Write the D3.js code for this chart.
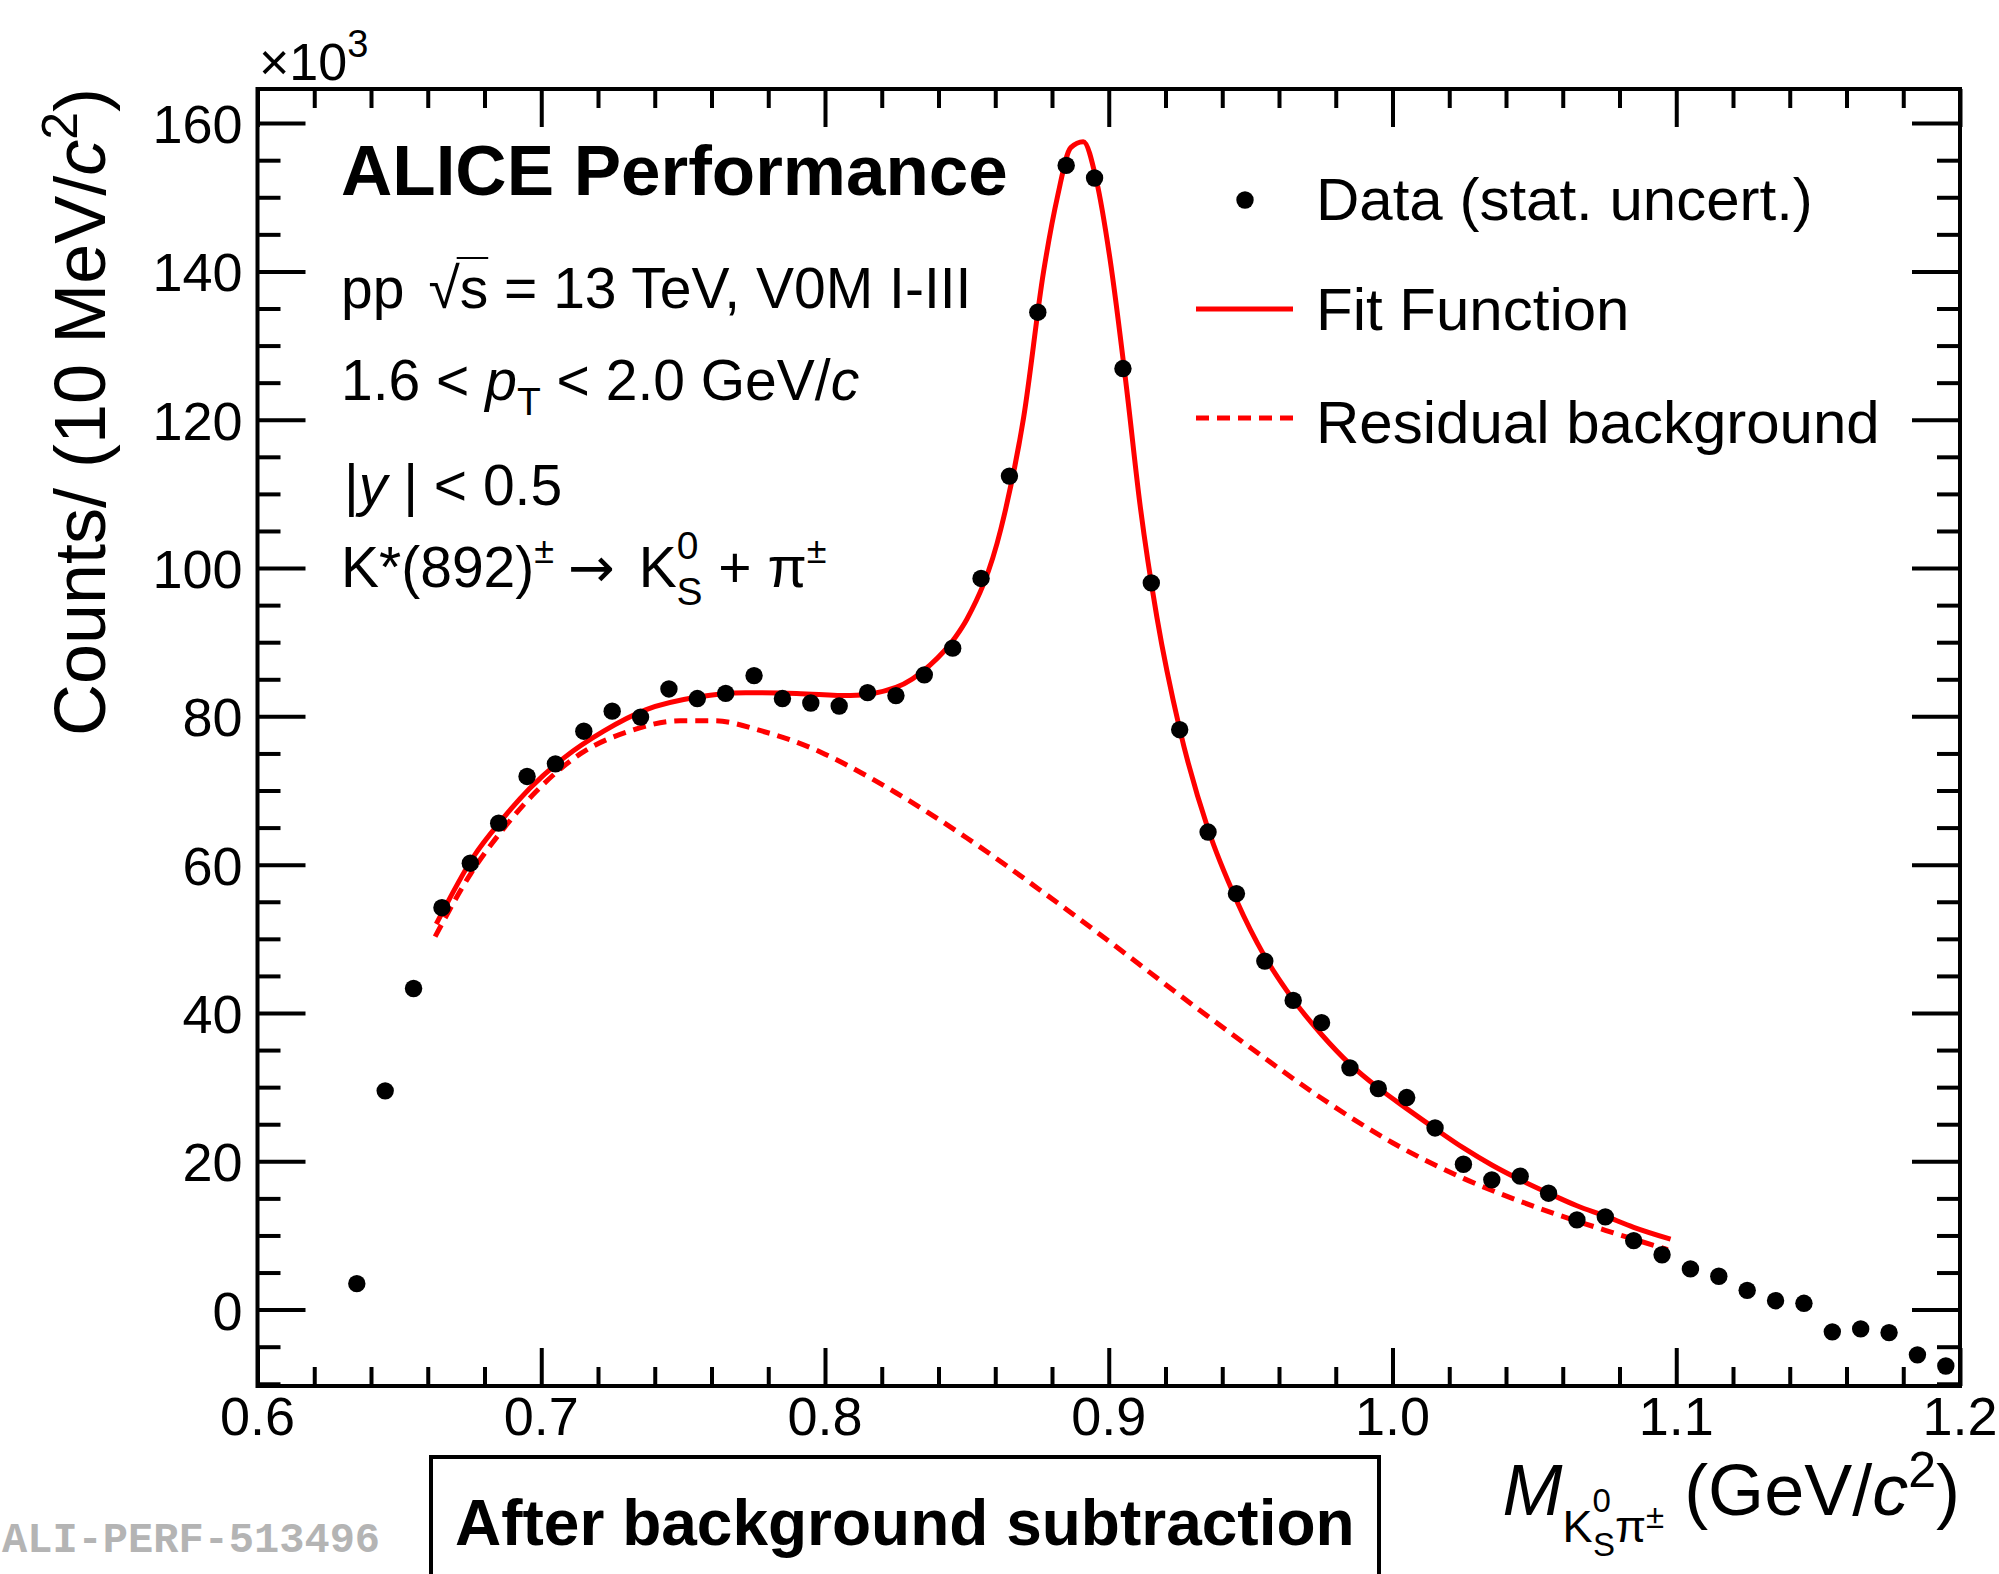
<!DOCTYPE html>
<html lang="en">
<head>
<meta charset="utf-8">
<title>K*(892) invariant mass after background subtraction</title>
<script src="https://cdn.jsdelivr.net/npm/d3@7"></script>
<style>
html,body{margin:0;padding:0;background:#fff}
svg{display:block;font-family:"Liberation Sans",Arial,Helvetica,sans-serif}
</style>
</head>
<body>
<div id="chart"></div>
<script>
// invariant mass bin centres (GeV/c^2) and counts per bin (x10^3)
var massBins=[0.635,0.645,0.655,0.665,0.675,0.685,0.695,0.705,0.715,0.725,
              0.735,0.745,0.755,0.765,0.775,0.785,0.795,0.805,0.815,0.825,
              0.835,0.845,0.855,0.865,0.875,0.885,0.895,0.905,0.915,0.925,
              0.935,0.945,0.955,0.965,0.975,0.985,0.995,1.005,1.015,1.025,
              1.035,1.045,1.055,1.065,1.075,1.085,1.095,1.105,1.115,1.125,
              1.135,1.145,1.155,1.165,1.175,1.185,1.195];
var counts=[3.5,29.5,43.3,54.2,60.2,65.6,71.9,73.6,78.0,80.7,
            79.9,83.7,82.4,83.1,85.5,82.4,81.8,81.4,83.2,82.8,
            85.6,89.2,98.6,112.4,134.5,154.3,152.6,126.9,98.0,78.2,
            64.4,56.1,47.0,41.7,38.7,32.6,29.8,28.6,24.5,19.6,
            17.5,18.0,15.7,12.1,12.5,9.3,7.4,5.5,4.5,2.6,
            1.2,0.85,-3.0,-2.6,-3.1,-6.1,-7.6];

// fit function (signal + residual background)
var fitMass=[0.663,0.666,0.676,0.686,0.696,0.708,0.722,0.737,0.755,0.772,
             0.790,0.809,0.825,0.837,0.846,0.850,0.862,0.870,0.877,0.882,
             0.8866,0.891,0.8957,0.9004,0.9063,0.911,0.917,0.925,0.935,0.945,
             0.955,0.965,0.975,0.985,0.995,1.005,1.015,1.025,1.035,1.045,
             1.055,1.065,1.075,1.085,1.098];
var fitCounts=[52.0,54.2,61.0,66.0,70.3,74.4,78.0,80.9,82.6,83.2,
               83.1,82.8,83.9,86.9,90.7,93.1,105.3,120.3,139.9,150.2,
               156.7,157.5,152.2,141.8,124.2,108.6,93.3,78.3,64.8,55.2,
               47.6,41.8,37.1,33.1,29.9,27.1,24.4,21.8,19.5,17.5,
               15.7,14.0,12.6,11.1,9.5];

// residual background component
var bkgMass=[0.6626,0.675,0.687,0.698,0.714,0.731,0.749,0.761,0.778,0.796,
             0.800,0.825,0.850,0.875,0.900,0.925,0.950,0.975,1.000,1.025,
             1.050,1.075,1.097];
var bkgCounts=[50.3,58.7,65.0,69.8,75.0,78.0,79.4,79.4,78.0,75.6,
               74.9,69.7,63.6,56.8,49.7,42.4,35.3,28.5,22.5,17.7,
               13.9,10.7,8.1];

var xTicks=[0.6,0.7,0.8,0.9,1.0,1.1,1.2];
var xTickLabels=["0.6","0.7","0.8","0.9","1.0","1.1","1.2"];
var xMinorTicks=[0.62,0.64,0.66,0.68,0.72,0.74,0.76,0.78,0.82,0.84,0.86,0.88,
                 0.92,0.94,0.96,0.98,1.02,1.04,1.06,1.08,1.12,1.14,1.16,1.18];
var yTicks=[0,20,40,60,80,100,120,140,160];
var yTickLabels=["0","20","40","60","80","100","120","140","160"];
var yMinorTicks=[-10,-5,5,10,15,25,30,35,45,50,55,65,70,75,85,90,95,
                 105,110,115,125,130,135,145,150,155];
var legendLabels=["Data (stat. uncert.)","Fit Function","Residual background"];

var W=1999,H=1574;
var frame={left:257.5,right:1960,top:89,bottom:1386};
var width=frame.right-frame.left;
var height=frame.bottom-frame.top;
var red="#ff0000";

var xScale=d3.scaleLinear().domain([0.6,1.2]).range([0,width]);
var yScale=d3.scaleLinear().domain([-10.3,164.6]).range([height,0]);

var svg=d3.select("#chart").append("svg")
    .attr("width",W).attr("height",H);
svg.append("rect").attr("width",W).attr("height",H).attr("fill","#fff");

var plot=svg.append("g")
    .attr("transform","translate("+frame.left+","+frame.top+")");

// ticks on all four sides, pointing inwards
function ticks(axis,values,size,tx,ty){
    var g=plot.append("g")
        .attr("transform","translate("+tx+","+ty+")")
        .call(axis.tickValues(values).tickSize(size).tickFormat(""));
    g.select(".domain").remove();
    g.selectAll("line").attr("stroke","#000").attr("stroke-width",4);
}
var yMinorIn=yMinorTicks.filter(function(v){return v>yScale.domain()[0];});
ticks(d3.axisBottom(xScale),xTicks,-38,0,height);
ticks(d3.axisBottom(xScale),xMinorTicks,-19,0,height);
ticks(d3.axisTop(xScale),xTicks,-38,0,0);
ticks(d3.axisTop(xScale),xMinorTicks,-19,0,0);
ticks(d3.axisLeft(yScale),yTicks,-48,0,0);
ticks(d3.axisLeft(yScale),yMinorIn,-23,0,0);
ticks(d3.axisRight(yScale),yTicks,-48,width,0);
ticks(d3.axisRight(yScale),yMinorIn,-23,width,0);

plot.append("rect")
    .attr("width",width).attr("height",height)
    .attr("fill","none").attr("stroke","#000").attr("stroke-width",4);

// tick labels
plot.selectAll(".xlab").data(xTicks).enter().append("text")
    .attr("x",function(d){return xScale(d);})
    .attr("y",height+49)
    .attr("text-anchor","middle")
    .attr("font-size",54)
    .text(function(d,i){return xTickLabels[i];});
plot.selectAll(".ylab").data(yTicks).enter().append("text")
    .attr("x",-15)
    .attr("y",function(d){return yScale(d)+20;})
    .attr("text-anchor","end")
    .attr("font-size",54)
    .text(function(d,i){return yTickLabels[i];});

// curves
var fitData=fitMass.map(function(m,i){return [m,fitCounts[i]];});
var bkgData=bkgMass.map(function(m,i){return [m,bkgCounts[i]];});
var valuePath=d3.line()
    .x(function(d){return xScale(d[0]);})
    .y(function(d){return yScale(d[1]);})
    .curve(d3.curveMonotoneX);

plot.append("path").datum(bkgData)
    .attr("d",valuePath).attr("fill","none")
    .attr("stroke",red).attr("stroke-width",5)
    .attr("stroke-dasharray","13,8");
plot.append("path").datum(fitData)
    .attr("d",valuePath).attr("fill","none")
    .attr("stroke",red).attr("stroke-width",5);

// data points
plot.selectAll(".pt").data(massBins).enter().append("circle")
    .attr("cx",function(d){return xScale(d);})
    .attr("cy",function(d,i){return yScale(counts[i]);})
    .attr("r",8.7)
    .attr("fill","#000");

// axis multiplier
var mult=svg.append("text").attr("x",259).attr("y",80).attr("font-size",52);
mult.append("tspan").text("\u00d710");
mult.append("tspan").attr("dy",-23).attr("font-size",38).text("3");

// y axis title
var yt=svg.append("text")
    .attr("transform","translate(105,88) rotate(-90)")
    .attr("text-anchor","end").attr("font-size",72);
yt.append("tspan").text("Counts/ (10 MeV/");
yt.append("tspan").attr("font-style","italic").text("c");
yt.append("tspan").attr("dy",-28).attr("font-size",50).text("2");
yt.append("tspan").attr("dy",28).text(")");

// x axis title
var xt=svg.append("text")
    .attr("x",1960).attr("y",1515)
    .attr("text-anchor","end").attr("font-size",72);
xt.append("tspan").attr("font-style","italic").text("M");
xt.append("tspan").attr("dy",27).attr("font-size",45).text("K");
xt.append("tspan").attr("dy",-30).attr("font-size",33).text("0");
xt.append("tspan").attr("dx",-18).attr("dy",44).attr("font-size",33).text("S");
xt.append("tspan").attr("dy",-14).attr("font-size",45).text("\u03c0");
xt.append("tspan").attr("dy",-14).attr("font-size",33).text("\u00b1");
xt.append("tspan").attr("dy",-13).text(" (GeV/");
xt.append("tspan").attr("font-style","italic").text("c");
xt.append("tspan").attr("dy",-28).attr("font-size",50).text("2");
xt.append("tspan").attr("dy",28).text(")");

// header text
svg.append("text").attr("x",341).attr("y",195)
    .attr("font-size",71).attr("font-weight","bold")
    .text("ALICE Performance");

var fs=57;
var l1=svg.append("text").attr("x",341).attr("y",308).attr("font-size",fs);
l1.append("tspan").text("pp");
l1.append("tspan").attr("dx",24).text("\u221a");
l1.append("tspan").text("s");
l1.append("tspan").text(" = 13 TeV, V0M I-III");
var sExt=l1.node().getExtentOfChar(3);
svg.append("line")
    .attr("x1",sExt.x-3).attr("x2",sExt.x+sExt.width)
    .attr("y1",258).attr("y2",258)
    .attr("stroke","#000").attr("stroke-width",2);

var l2=svg.append("text").attr("x",341).attr("y",400).attr("font-size",fs);
l2.append("tspan").text("1.6 < ");
l2.append("tspan").attr("font-style","italic").text("p");
l2.append("tspan").attr("dy",15).attr("font-size",39).text("T");
l2.append("tspan").attr("dy",-15).text(" < 2.0 GeV/");
l2.append("tspan").attr("font-style","italic").text("c");

var l3=svg.append("text").attr("x",344).attr("y",505).attr("font-size",fs);
l3.append("tspan").text("|");
l3.append("tspan").attr("font-style","italic").text("y");
l3.append("tspan").text(" | < 0.5");

var l4=svg.append("text").attr("x",341).attr("y",587).attr("font-size",fs);
l4.append("tspan").text("K*(892)");
l4.append("tspan").attr("dy",-24).attr("font-size",36).text("\u00b1");
l4.append("tspan").attr("dx",14).attr("dy",24)
    .attr("font-family","'DejaVu Sans',sans-serif").attr("font-size",56).text("\u2192");
l4.append("tspan").attr("dx",8).text(" K");
l4.append("tspan").attr("dy",-28).attr("font-size",39).text("0");
l4.append("tspan").attr("dx",-22).attr("dy",46).attr("font-size",39).text("S");
l4.append("tspan").attr("dy",-18).text(" + \u03c0");
l4.append("tspan").attr("dy",-24).attr("font-size",36).text("\u00b1");

// legend
var leg=svg.append("g");
leg.append("circle").attr("cx",1245).attr("cy",200).attr("r",8.7).attr("fill","#000");
leg.append("line").attr("x1",1196).attr("x2",1293).attr("y1",309).attr("y2",309)
    .attr("stroke",red).attr("stroke-width",5);
leg.append("line").attr("x1",1196).attr("x2",1293).attr("y1",418).attr("y2",418)
    .attr("stroke",red).attr("stroke-width",5).attr("stroke-dasharray","13,8");
leg.selectAll("text").data(legendLabels).enter().append("text")
    .attr("x",1316)
    .attr("y",function(d,i){return [220,330,443][i];})
    .attr("font-size",60)
    .text(function(d){return d;});

// caption box below the axis
svg.append("rect").attr("x",431).attr("y",1457).attr("width",948).attr("height",200)
    .attr("fill","none").attr("stroke","#000").attr("stroke-width",4);
svg.append("text").attr("x",455).attr("y",1545)
    .attr("font-size",64).attr("font-weight","bold")
    .text("After background subtraction");

svg.append("text").attr("x",2).attr("y",1552)
    .attr("font-family","'Liberation Mono','DejaVu Sans Mono',monospace")
    .attr("font-weight","bold").attr("font-size",42).attr("fill","#b4b4b4")
    .text("ALI-PERF-513496");
</script>
</body>
</html>
